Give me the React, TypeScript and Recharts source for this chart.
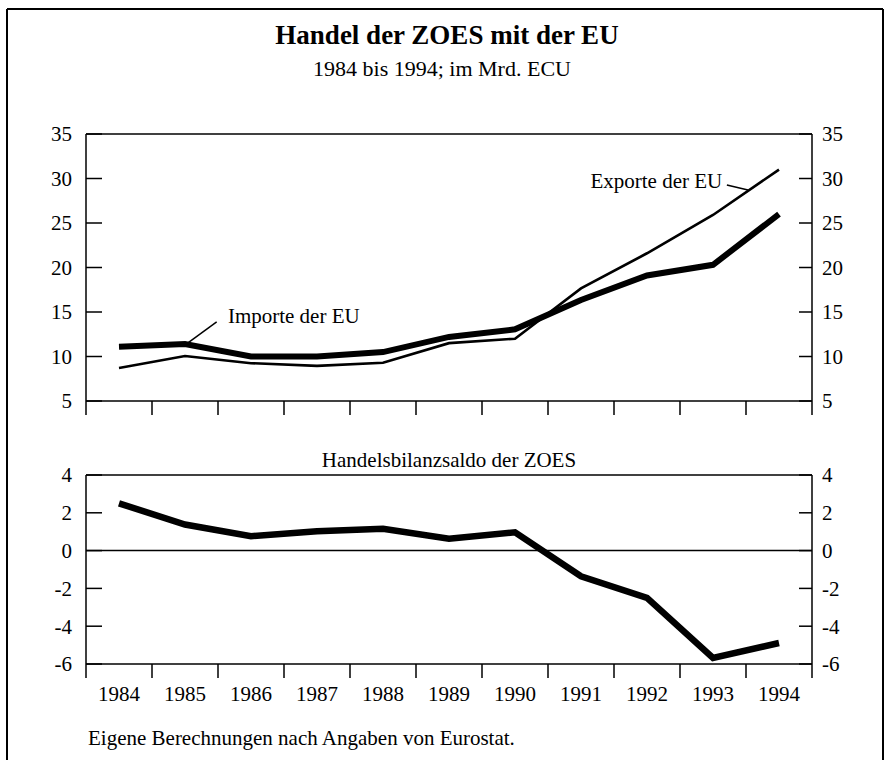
import React from 'react';
import { LineChart, Line, XAxis, YAxis, ReferenceLine, ReferenceDot } from 'recharts';

const years = [1984, 1985, 1986, 1987, 1988, 1989, 1990, 1991, 1992, 1993, 1994];
const importe = [11.1, 11.4, 10.0, 10.0, 10.5, 12.2, 13.05, 16.35, 19.1, 20.3, 26.0];
const exporte = [8.7, 10.05, 9.25, 8.95, 9.3, 11.5, 12.0, 17.65, 21.6, 25.9, 31.0];
const saldo = [2.5, 1.38, 0.76, 1.02, 1.15, 0.63, 0.97, -1.36, -2.5, -5.68, -4.89];
const yearBounds = [1983.5, 1984.5, 1985.5, 1986.5, 1987.5, 1988.5, 1989.5, 1990.5, 1991.5, 1992.5, 1993.5, 1994.5];
const topTicks = [5, 10, 15, 20, 25, 30, 35];
const bottomTicks = [-6, -4, -2, 0, 2, 4];

const data = years.map((y, i) => ({ year: y, importe: importe[i], exporte: exporte[i], saldo: saldo[i] }));

const FONT = "'Liberation Serif', 'DejaVu Serif', serif";
const tickStyle = { fill: '#000', fontSize: 21, fontFamily: FONT };
const ax = { stroke: '#000', strokeWidth: 1.5 };
const xDomain: [number, number] = [1983.5, 1994.5];
const NoLabel = () => <g />;

export default function App() {
  return (
    <div style={{ position: 'absolute', left: 0, top: 0, width: 885, height: 760, background: '#fff', fontFamily: FONT, overflow: 'hidden' }}>
      <svg width={885} height={760} style={{ position: 'absolute', left: 0, top: 0 }}>
        <line x1={7} y1={9} x2={7} y2={760} stroke="#000" strokeWidth={2} />
        <line x1={7} y1={9} x2={883} y2={9} stroke="#000" strokeWidth={2} />
        <line x1={883} y1={9} x2={883} y2={760} stroke="#000" strokeWidth={2} />
        <text x={447} y={44} textAnchor="middle" fontSize={27} fontWeight="bold" fontFamily={FONT}>Handel der ZOES mit der EU</text>
        <text x={442} y={76} textAnchor="middle" fontSize={22} fontFamily={FONT}>1984 bis 1994; im Mrd. ECU</text>
        <text x={449} y={467} textAnchor="middle" fontSize={21} fontFamily={FONT}>Handelsbilanzsaldo der ZOES</text>
        <text x={88} y={745} textAnchor="start" fontSize={21} fontFamily={FONT}>Eigene Berechnungen nach Angaben von Eurostat.</text>
      </svg>

      <div style={{ position: 'absolute', left: 0, top: 0 }}>
        <LineChart width={885} height={430} data={data} margin={{ top: 134, right: 13, bottom: 9, left: 26 }}>
          <XAxis xAxisId="a" dataKey="year" type="number" domain={xDomain} ticks={yearBounds} interval={0} tick={<NoLabel />} tickSize={14} height={20} axisLine={ax} tickLine={ax} allowDataOverflow />
          <YAxis yAxisId="l" domain={[5, 35]} ticks={topTicks} interval={0} tickSize={-16} tickMargin={30} width={60} tick={tickStyle} axisLine={ax} tickLine={ax} allowDataOverflow />
          <YAxis yAxisId="r" orientation="right" domain={[5, 35]} ticks={topTicks} interval={0} tickSize={-13} tickMargin={23} width={60} tick={tickStyle} axisLine={ax} tickLine={ax} allowDataOverflow />
          <ReferenceLine xAxisId="a" yAxisId="l" y={35} stroke="#000" strokeWidth={1.5} />
          <Line xAxisId="a" yAxisId="l" dataKey="exporte" stroke="#000" strokeWidth={2.6} dot={false} isAnimationActive={false} />
          <Line xAxisId="a" yAxisId="l" dataKey="importe" stroke="#000" strokeWidth={6} dot={false} isAnimationActive={false} />
          <ReferenceLine xAxisId="a" yAxisId="l" segment={[{ x: 1985.05, y: 11.55 }, { x: 1985.48, y: 13.9 }]} stroke="#000" strokeWidth={1.5} />
          <ReferenceLine xAxisId="a" yAxisId="l" segment={[{ x: 1993.21, y: 29.27 }, { x: 1993.53, y: 28.7 }]} stroke="#000" strokeWidth={1.5} />
          <ReferenceDot xAxisId="a" yAxisId="l" x={1985.65} y={13.76} r={0}
            shape={(p: any) => <text x={p.cx} y={p.cy} fontSize={21} fontFamily={FONT} fill="#000">Importe der EU</text>} />
          <ReferenceDot xAxisId="a" yAxisId="l" x={1993.14} y={28.93} r={0}
            shape={(p: any) => <text x={p.cx} y={p.cy} fontSize={21} fontFamily={FONT} fill="#000" textAnchor="end">Exporte der EU</text>} />
        </LineChart>
      </div>

      <div style={{ position: 'absolute', left: 0, top: 430 }}>
        <LineChart width={885} height={330} data={data} margin={{ top: 45, right: 13, bottom: 52, left: 26 }}>
          <XAxis xAxisId="b" dataKey="year" type="number" domain={xDomain} ticks={years} interval={0} tickLine={false} axisLine={false} height={30} tick={tickStyle} allowDataOverflow />
          <XAxis xAxisId="a" dataKey="year" type="number" domain={xDomain} ticks={yearBounds} interval={0} tick={<NoLabel />} tickSize={14} height={14} axisLine={ax} tickLine={ax} allowDataOverflow />
          <YAxis yAxisId="l" domain={[-6, 4]} ticks={bottomTicks} interval={0} tickSize={-16} tickMargin={30} width={60} tick={tickStyle} axisLine={ax} tickLine={ax} allowDataOverflow />
          <YAxis yAxisId="r" orientation="right" domain={[-6, 4]} ticks={bottomTicks} interval={0} tickSize={-13} tickMargin={23} width={60} tick={tickStyle} axisLine={ax} tickLine={ax} allowDataOverflow />
          <ReferenceLine xAxisId="a" yAxisId="l" y={4} stroke="#000" strokeWidth={1.5} />
          <ReferenceLine xAxisId="a" yAxisId="l" y={0} stroke="#000" strokeWidth={1.5} />
          <Line xAxisId="a" yAxisId="l" dataKey="saldo" stroke="#000" strokeWidth={6.5} dot={false} isAnimationActive={false} />
        </LineChart>
      </div>
    </div>
  );
}
